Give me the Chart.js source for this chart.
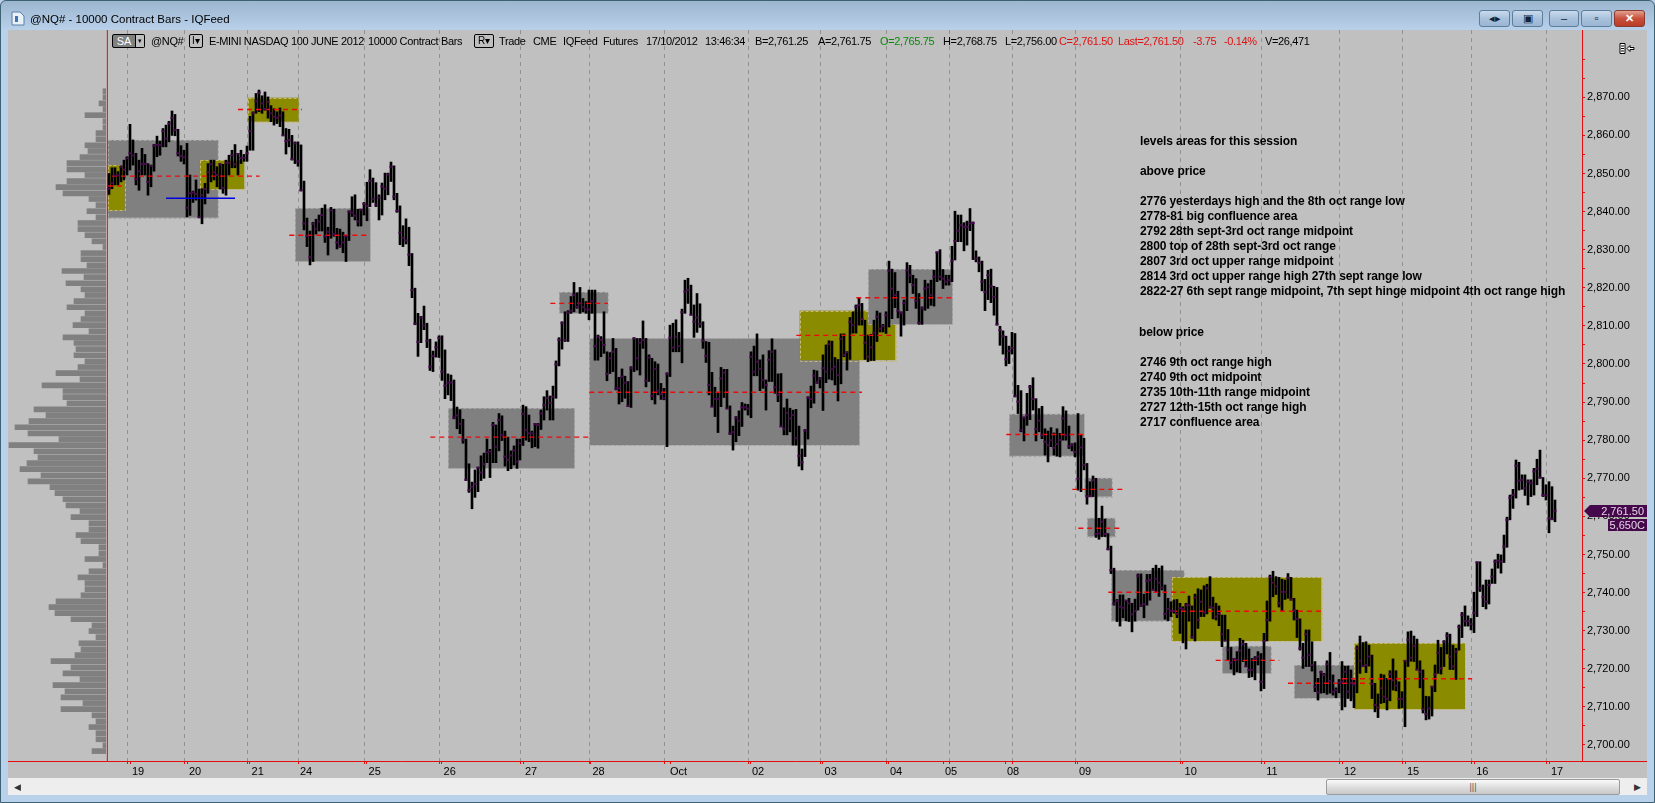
<!DOCTYPE html>
<html lang="en">
<head>
<meta charset="UTF-8">
<title>@NQ# - 10000 Contract Bars - IQFeed</title>
<script src="https://cdn.jsdelivr.net/npm/chart.js"></script>
<style>
    html, body { margin: 0; padding: 0; }
    body { width: 1655px; height: 803px; position: relative; overflow: hidden; background: #b9d1ea;
           font-family: "Liberation Sans", Arial, sans-serif; }
    #frame { position: absolute; left: 0; top: 0; width: 1653px; height: 801px; border: 1px solid #3d6272; border-radius: 6px 6px 0 0;
             background: linear-gradient(#9db6cf 0, #b9d1ea 30px, #b9d1ea 100%); }
    #grafico { position: absolute; left: 8px; top: 30px; background: #c0c0c0; }
    #perfil { position: absolute; left: 8px; top: 30px; }
    .t { position: absolute; top: 34px; white-space: pre; font-size: 11px; line-height: 14px; letter-spacing: -0.35px; color: #000; }
    .title { position: absolute; left: 30px; top: 11px; font-size: 11.5px; line-height: 16px; color: #000; white-space: pre; }
    .note { position: absolute; left: 1140px; font-size: 12px; line-height: 15px; font-weight: bold; letter-spacing: -0.1px; color: #000; white-space: pre; }
    .btn { position: absolute; top: 10px; height: 15px; border: 1px solid #5c7d9c; border-radius: 3px;
           background: linear-gradient(#c9daec, #a9c2dc 50%, #9ab6d3); font-size: 11px; line-height: 15px; text-align: center; color: #123; }
    .box { position: absolute; top: 34px; height: 12px; border: 1px solid #000; border-radius: 2px; font-size: 11px; line-height: 12px; text-align: center; }
    #scroll { position: absolute; left: 8px; top: 778px; width: 1639px; height: 17px; background: #eeeeee; }
    #thumb { position: absolute; left: 1318px; top: 1px; width: 292px; height: 14px; border: 1px solid #9a9a9a; border-radius: 2px;
             background: linear-gradient(#fafafa, #dcdcdc 55%, #c8c8c8); text-align: center; font-size: 9px; line-height: 14px; color: #555; }
</style>
</head>
<body>
<div id="frame"></div>
<canvas id="grafico" width="1639" height="748"></canvas>
<canvas id="perfil" width="98" height="731"></canvas>

<svg style="position:absolute;left:11px;top:11px" width="14" height="15"><path d="M1 1h8l4 4v9H1z" fill="#e8f0f8" stroke="#5b7fa8"/><path d="M4 5h3v6H4z" fill="#3f74b0"/></svg>
<div class="title">@NQ# - 10000 Contract Bars - IQFeed</div>
<div class="btn" style="left:1479px;width:29px">◂▸</div>
<div class="btn" style="left:1512px;width:29px">▣</div>
<div class="btn" style="left:1549px;width:28px">–</div>
<div class="btn" style="left:1581px;width:29px">▫</div>
<div class="btn" style="left:1614px;width:29px;background:linear-gradient(#e2a090,#c9503c 50%,#b83c28);color:#fff;font-weight:bold;border-color:#8a3a30">✕</div>

<div class="box" style="left:112px;width:22px;background:#808080;color:#fff;border-radius:2px 0 0 2px">SA</div>
<div class="box" style="left:135px;width:9px;border-left:0;border-radius:0 2px 2px 0;font-size:7px">▾</div>
<div class="t" style="left:151px">@NQ#</div>
<div class="box" style="left:189px;width:12px;font-size:10px">I▾</div>
<div class="t" style="left:209px">E-MINI NASDAQ 100 JUNE 2012</div>
<div class="t" style="left:368px">10000 Contract Bars</div>
<div class="box" style="left:474px;width:18px;font-size:10px">R▾</div>
<div class="t" style="left:499px">Trade</div>
<div class="t" style="left:533px">CME</div>
<div class="t" style="left:563px">IQFeed</div>
<div class="t" style="left:603px">Futures</div>
<div class="t" style="left:646px">17/10/2012</div>
<div class="t" style="left:705px">13:46:34</div>
<div class="t" style="left:755px">B=2,761.25</div>
<div class="t" style="left:818px">A=2,761.75</div>
<div class="t" style="left:880px;color:#0a8a0a">O=2,765.75</div>
<div class="t" style="left:943px">H=2,768.75</div>
<div class="t" style="left:1005px">L=2,756.00</div>
<div class="t" style="left:1059px;color:#e01010">C=2,761.50</div>
<div class="t" style="left:1118px;color:#e01010">Last=2,761.50</div>
<div class="t" style="left:1193px;color:#e01010">-3.75</div>
<div class="t" style="left:1224px;color:#e01010">-0.14%</div>
<div class="t" style="left:1265px">V=26,471</div>
<svg style="position:absolute;left:1619px;top:43px" width="16" height="11"><path d="M1 .5h5v10H1zM2 3h3M2 5.500h3M2 8h3" fill="#fff" stroke="#000"/><path d="M8 5.500l3-3v2h4v2h-4v2z" fill="#fff" stroke="#000"/></svg>

<div class="note" style="top:134px">levels areas for this session</div>
<div class="note" style="top:164px">above price</div>
<div class="note" style="top:194px">2776 yesterdays high and the 8th oct range low</div>
<div class="note" style="top:209px">2778-81 big confluence area</div>
<div class="note" style="top:224px">2792 28th sept-3rd oct range midpoint</div>
<div class="note" style="top:239px">2800 top of 28th sept-3rd oct range</div>
<div class="note" style="top:254px">2807 3rd oct upper range midpoint</div>
<div class="note" style="top:269px">2814 3rd oct upper range high 27th sept range low</div>
<div class="note" style="top:284px">2822-27 6th sept range midpoint, 7th sept hinge midpoint 4th oct range high</div>
<div class="note" style="top:325px;left:1139px">below price</div>
<div class="note" style="top:355px">2746 9th oct range high</div>
<div class="note" style="top:370px">2740 9th oct midpoint</div>
<div class="note" style="top:385px">2735 10th-11th range midpoint</div>
<div class="note" style="top:400px">2727 12th-15th oct range high</div>
<div class="note" style="top:415px">2717 confluence area</div>

<div id="scroll">
    <div class="t" style="left:6px;top:2px;font-size:9px;color:#333">◀</div>
    <div id="thumb">|||</div>
    <div class="t" style="left:1626px;top:2px;font-size:9px;color:#333">▶</div>
</div>

<script>
    // contract bars, left to right, one entry per bar
    const highs = [
        2850,2851.5,2851.5,2850.5,2852,2853.5,2854.4,2862.9,2858.8,2855.3,
        2853.5,2856.6,2855,2852.6,2852.2,2857.6,2859.8,2858.5,2861.8,2862.7,
        2863.7,2866.4,2865.5,2861.6,2857.3,2856.1,2857.9,2849.6,2845.4,2848.3,
        2845.9,2846,2847.4,2852.6,2853.5,2853.5,2851.8,2852.6,2852.4,2853.5,
        2854.8,2856.1,2857.6,2855.3,2856.1,2855,2857.2,2865,2866.2,2871,
        2871.9,2870.4,2871.4,2870.1,2867.8,2867,2866.2,2867.2,2866.2,2861.8,
        2861.6,2860,2858.3,2858.3,2857.5,2848,2838.3,2834.9,2837.2,2838,
        2839.1,2840.9,2841.8,2835.9,2841.1,2840.6,2835.6,2835.4,2834.6,2833.6,
        2840.2,2843.9,2844.4,2840.6,2840.6,2842.4,2847.7,2851,2848.8,2847.6,
        2844.4,2847.5,2850.1,2850.1,2853,2852,2844.8,2841.5,2836.3,2838.1,
        2835.9,2829,2819.9,2813.3,2812.5,2815.2,2810.7,2806.5,2803.4,2805.8,
        2807.4,2807.4,2803.7,2797.4,2797.1,2795.8,2788.7,2788,2785.5,2780.3,
        2773.8,2769,2772.2,2772.9,2775.9,2776.6,2780.3,2777.6,2784.7,2784,
        2787,2786.4,2782.4,2780.8,2777.2,2778.5,2780.3,2780.3,2789.2,2788.8,
        2786.6,2782.4,2784.4,2784.4,2787.9,2791.4,2793,2791.6,2794.2,2800.8,
        2806.9,2811.1,2813.7,2814,2817.7,2821.4,2818.7,2820.1,2817.2,2816.4,
        2819.4,2819.4,2819.4,2807.6,2807.2,2813.7,2803.2,2803,2806.7,2804.1,
        2796.5,2798.7,2796.8,2795.4,2799.3,2806.9,2806.7,2806.7,2811.3,2806.7,
        2802.4,2801.5,2800.6,2800,2794.9,2793.6,2797.7,2810.2,2810.7,2811.6,
        2808.3,2814.4,2822,2822.5,2820.7,2815.5,2818.5,2815.8,2811.1,2805.9,
        2805.7,2797.8,2793.9,2792.3,2799.1,2798.6,2798.6,2789,2783.7,2786.2,
        2787.7,2789.9,2789.5,2789.4,2803.2,2804.7,2807.9,2801.1,2802.4,2795.8,
        2803.5,2806.6,2803.7,2797.4,2797.5,2788.5,2790.8,2788.4,2787.9,2788.1,
        2783.7,2777.7,2782.8,2791.4,2794.2,2798.4,2798.2,2796.5,2802.4,2805,
        2806.1,2806,2801.7,2801.2,2807.9,2807.9,2803.2,2812.2,2813.7,2815.5,
        2817.5,2815.9,2811.5,2807.6,2807.8,2811.5,2813.9,2813.4,2810.4,2813.7,
        2827,2824.9,2824,2819.1,2813.7,2816.8,2826.6,2825.9,2823.3,2822.4,
        2818.5,2815,2822,2821.1,2822,2824.6,2829.4,2830,2824.8,2823.3,
        2823.3,2830.9,2840.1,2839.1,2839.1,2837.1,2837.5,2840.8,2837.3,2829.7,
        2828.1,2827,2822.2,2824.6,2824.9,2820.4,2820.1,2809.9,2808.7,2807.3,
        2804.7,2808.3,2808,2794.4,2793,2786.1,2792.3,2794.4,2796.4,2790.9,
        2788.3,2788.9,2783,2782.4,2783.3,2781.9,2783,2781.8,2788.8,2787.7,
        2783.7,2779.1,2779.3,2787,2781.5,2780.5,2773.9,2769.1,2770.6,2770,
        2759.5,2762.7,2759.3,2755.5,2752.2,2746.4,2738.2,2739.4,2739.4,2738,
        2738.5,2737.2,2738.3,2744.9,2744.9,2739.6,2744.8,2744.8,2746.4,2747.2,
        2746.4,2747,2742,2738.5,2737.6,2738.1,2738.2,2737.2,2736.3,2737.2,
        2739.1,2736.5,2739.6,2741,2740.7,2741.8,2742.2,2744.2,2738.8,2737.2,
        2736.5,2734.1,2734.1,2730.3,2725.6,2722.7,2724.5,2728,2727.5,2726.7,
        2725.2,2722.7,2723.2,2724.5,2724,2729.3,2737.8,2744.6,2745.6,2744.2,
        2744,2743.5,2743.3,2745,2744,2738.5,2735.4,2733.1,2726.7,2730.2,
        2730.2,2727.1,2721.9,2717.5,2719.4,2718.8,2722.1,2724.3,2718.4,2715,
        2717.2,2721.9,2720.7,2720.7,2719.7,2717,2726,2728.6,2726.9,2727.1,
        2726.2,2723.6,2716.2,2713.4,2718.6,2718.4,2717.5,2719.5,2722.6,2719.5,
        2716.6,2714,2722.1,2729.7,2729.9,2728.6,2727.8,2722.1,2719.7,2712.8,
        2712.7,2715.3,2721,2727.5,2725.6,2727.4,2729.5,2729.1,2726.2,2725.4,
        2731.5,2734.8,2736.5,2733.9,2733.2,2740.1,2748.1,2748.1,2742,2743.3,
        2743.3,2746.2,2748.6,2750.1,2749.9,2755.1,2759.8,2765.6,2767.1,2774.8,
        2774.2,2770.9,2770.9,2769.6,2769.6,2772.6,2775,2777.4,2770.2,2768.3,
        2769.1,2767.8,2764.3
    ];
    const lows = [
        2844.5,2846,2847,2847,2847.8,2848.3,2849.6,2850.9,2852.2,2847,
        2845.6,2849.6,2849.6,2844.3,2846.5,2850.6,2854.4,2854.8,2857,2857,
        2858.3,2860,2859.9,2854.6,2853.2,2852.5,2838.6,2839,2842.4,2843,
        2838.6,2836.8,2842,2844.8,2847.8,2848.3,2846.5,2845.9,2844.8,2844.3,
        2849.6,2851.5,2851.5,2849.6,2852.6,2853.2,2853.2,2856.1,2856.1,2865.8,
        2866.2,2865.8,2866.6,2864.5,2863.6,2862.7,2863.1,2862.3,2860,2855.1,
        2857,2853.5,2852.6,2851.9,2845.4,2835.2,2830.8,2826,2826.9,2834.1,
        2834.9,2834.9,2831.9,2828.6,2833,2833.5,2830.2,2830.6,2829.2,2826.9,
        2832.4,2838.7,2837.8,2836.2,2836.2,2839.1,2837.6,2841.3,2842.4,2841.3,
        2837.8,2839.1,2843.1,2844.4,2847.9,2843.1,2839.8,2831.3,2830.8,2831.5,
        2825.8,2817.4,2810.3,2802,2805.6,2809,2804.3,2798.3,2798,2801.8,
        2801.7,2795.7,2790.9,2791.9,2790.4,2785.6,2783,2781.7,2779.2,2769.4,
        2766.3,2762,2765,2766.5,2769.4,2770,2774.1,2770.2,2774.1,2774.1,
        2777.2,2779.9,2773.2,2772,2772.5,2773.5,2772.6,2774.8,2778.6,2780,
        2779.6,2778,2778.3,2777.9,2782.8,2785.3,2787.9,2785.3,2785.3,2791,
        2799.5,2803.9,2805.9,2805.9,2813.3,2813.7,2814.6,2813.3,2813.7,2813.3,
        2811.6,2813.3,2801,2801,2801.9,2802.8,2795.6,2797.5,2798,2793.2,
        2789.5,2790.1,2791,2788.8,2788.6,2798,2798.4,2797.1,2804.1,2794,
        2795.4,2790.6,2789.5,2791.9,2790.7,2790.6,2778.3,2796.7,2803.2,2803.2,
        2803.2,2800.3,2813.3,2815.9,2812.9,2807,2808.3,2809.6,2804.1,2800.4,
        2791.9,2788.8,2786.2,2782,2788.8,2791.2,2788.3,2781.5,2777.4,2779.6,
        2781.2,2783.6,2787.9,2786.6,2785.9,2796.9,2796.9,2793,2793.6,2787.9,
        2795.4,2795.4,2792.3,2790.1,2783.6,2781.4,2781.4,2782.2,2778.7,2778.7,
        2773.2,2772.2,2775.7,2780.3,2788.5,2789.7,2794.9,2793.7,2787.8,2795.1,
        2796,2795.8,2794.5,2790.3,2794.8,2801.9,2798.4,2801.2,2808.1,2808.1,
        2810.2,2810.2,2801.2,2800.6,2800.9,2800.9,2805.9,2808.4,2808.4,2808,
        2809.7,2811.9,2814.8,2812.1,2807.3,2810.2,2814,2821.3,2818.5,2814.6,
        2810.4,2810.4,2814.1,2814.6,2815.4,2815.2,2821.6,2822,2819.8,2820.7,
        2820.7,2821.6,2827.3,2832.1,2832.1,2829.7,2831.2,2835,2827.4,2826.8,
        2824.2,2819.2,2814,2816.9,2816.1,2812.8,2810.2,2804.9,2802.6,2799.5,
        2800.1,2802.6,2791.4,2787,2782.2,2779.8,2783.9,2785.4,2787.9,2779.8,
        2782.2,2780.4,2776.1,2774.3,2778.3,2776.1,2775.8,2775.6,2780,2780,
        2777.8,2777.2,2775.6,2766.9,2766.5,2772.2,2763.2,2765.2,2765.2,2754.5,
        2754,2754.7,2754.7,2751.2,2745,2736.7,2732.4,2731.2,2733.4,2732.6,
        2732.4,2729.7,2732.5,2735.4,2736.3,2733.4,2736.7,2738,2740.7,2740.2,
        2739,2740.7,2733,2732.6,2733.7,2734.6,2733.4,2729.3,2726.8,2725.2,
        2732.5,2728,2727.3,2730.6,2733.7,2733.7,2734.4,2735.9,2733.1,2732.8,
        2731.3,2725.8,2727.3,2722.3,2719.9,2718.4,2719.2,2719,2721.9,2720.5,
        2717.7,2717.9,2717.1,2721,2714.2,2714.8,2727.3,2732.5,2738.9,2739.5,
        2736.2,2735.3,2738.2,2738.5,2738,2732.8,2728.2,2724.9,2720.1,2720.6,
        2720.6,2719.4,2714,2711.8,2713.6,2713.7,2713.3,2713.6,2713.1,2712.4,
        2713.7,2709.2,2710,2712.2,2711.6,2709.8,2713.7,2718.8,2720.6,2719,
        2720.7,2712.2,2708.7,2707.2,2710.9,2711.1,2709.2,2711.6,2714.4,2714.2,
        2709.6,2709.8,2704.8,2720.6,2722,2721.9,2719.7,2715,2708.4,2706.6,
        2706.8,2707.6,2714,2718.8,2718.6,2720.6,2723.9,2719.8,2719.8,2717.2,
        2724.9,2728.2,2731.2,2731.2,2730.2,2729.5,2733.7,2740.3,2736.3,2735.7,
        2737,2742.4,2742.4,2746.4,2745.1,2747.9,2751.9,2759.1,2762.1,2764.8,
        2766.9,2767.1,2765.5,2763,2765.2,2765.6,2768.3,2770,2765.2,2764.3,
        2755.7,2759.1,2758.6
    ];
    const closes = [
        2846,2847.5,2849.5,2849.5,2851.8,2851,2854,2855.3,2854.7,2848.5,
        2850.6,2852.5,2852.5,2847.8,2852,2857.3,2857.5,2857.5,2861.1,2859.2,
        2863.1,2864.6,2861.4,2855.3,2854.6,2854.3,2841,2844.8,2845,2844.6,
        2838.5,2844.3,2845.9,2850.3,2852.4,2850.3,2849.6,2852.4,2846.2,2852.8,
        2852.8,2854.8,2852.4,2855.1,2854.1,2854.1,2855.3,2861.1,2865.8,2869,
        2871.2,2868.4,2866.9,2868.8,2865.8,2864.9,2864.6,2865.2,2860,2858.5,
        2858.8,2853.8,2857.9,2853.2,2845.6,2836.9,2833.6,2828.1,2836.8,2835.5,
        2837.4,2839.1,2833.5,2834.7,2840.3,2834.1,2831.9,2831,2831.9,2833.5,
        2840,2839.8,2838.9,2837.4,2840.5,2842,2841.5,2848.1,2843.3,2841.8,
        2843.7,2846.6,2846,2849.7,2851.8,2843.9,2840.2,2834.5,2833.1,2832.4,
        2828.7,2819.4,2810.6,2805.8,2812.2,2810.1,2806.1,2799.3,2802.1,2804.4,
        2806.8,2798,2794.3,2795.1,2795.1,2785.9,2786.5,2784.3,2780.1,2769.6,
        2766.9,2767.8,2768.5,2772.8,2771.5,2773.7,2776.8,2777,2784,2778.3,
        2785.3,2781.4,2775.7,2774.8,2776,2777.3,2774.4,2779.2,2786.9,2782.7,
        2781.8,2781.8,2784.2,2784,2787,2789.2,2791,2789.8,2791.4,2799.9,
        2806.3,2810.7,2806.3,2813.5,2814,2818.1,2815,2815.9,2814.9,2814.3,
        2814.3,2816.5,2804.7,2807.2,2806.3,2805,2797.4,2801.5,2803.2,2793.6,
        2793.6,2796.7,2795.1,2789,2798.9,2806.7,2801.5,2805.6,2806.3,2795.6,
        2801.7,2791.6,2798.7,2793,2792.1,2791,2797.4,2806.9,2804.3,2807.2,
        2804.7,2813.6,2819,2819.4,2812.9,2811.1,2812.2,2810.5,2806.1,2802.1,
        2794.5,2788.8,2790.8,2790.8,2796.2,2797.7,2788.3,2781.8,2782.1,2785.9,
        2785.1,2788.6,2788.6,2788.3,2801.9,2798,2800.6,2798.7,2795.8,2794.5,
        2801.1,2803.2,2793.9,2791.9,2783.6,2783,2787.2,2785.7,2786.6,2780.5,
        2775.9,2774.2,2782.5,2791.2,2790.8,2796.9,2795.2,2796.2,2798.9,2798,
        2805.2,2798.6,2799.3,2797.1,2806.6,2802.4,2803.1,2811.1,2810.2,2815,
        2815.5,2811.8,2805.6,2801.9,2804.4,2808.2,2812.4,2809.3,2809.9,2812.8,
        2824.5,2819.8,2818.1,2814,2813.4,2816,2824.6,2823.3,2820.7,2816.6,
        2810.8,2814.6,2819.8,2820.1,2818.1,2822.9,2829.3,2822.9,2822.4,2821.6,
        2822,2827.1,2832.3,2835,2836.4,2836,2836,2836.9,2837,2827.7,
        2826.6,2821.6,2818.9,2823.3,2820.4,2817.6,2810.4,2808.9,2807.3,2801.2,
        2803.4,2804.2,2791.5,2790.1,2782.6,2785.9,2786.6,2794,2790.8,2782.9,
        2785.1,2781.3,2779.6,2778.7,2780,2778,2779,2780,2785.7,2781.3,
        2778.4,2778.7,2776.9,2769.9,2778.1,2773.5,2765.3,2765.3,2769.5,2755.4,
        2755.5,2758.6,2755.4,2751.4,2745.9,2737.2,2737.8,2736.3,2736,2737.9,
        2737.2,2734.3,2735.2,2744.4,2736.6,2737,2743.1,2743.3,2740.7,2743.6,
        2742.6,2741.3,2734.4,2735.7,2735.2,2735.2,2734.4,2735.9,2735.7,2736.7,
        2736.7,2728.4,2738.7,2732.8,2737.6,2734.8,2741.1,2736.3,2736,2733.7,
        2734.4,2729.1,2727.4,2725,2721.6,2722.6,2722.3,2724.8,2726.5,2720.7,
        2719.7,2719.7,2722.7,2723.2,2716.6,2727.3,2732.8,2744,2742.6,2741.6,
        2737.2,2740.2,2740.2,2743.9,2738.2,2735.4,2733.1,2725.4,2722.9,2729.1,
        2723.6,2721,2715.3,2713.8,2719.1,2718.4,2721.2,2716.8,2714,2714.4,
        2716.3,2716.6,2719.2,2714,2716.3,2715.9,2725.4,2722.1,2720.7,2721,
        2723.2,2716,2710.5,2709.8,2714.9,2712.7,2712.1,2718.6,2717,2715.6,
        2712.1,2712.1,2722.1,2727.6,2722.9,2726,2719.8,2719.2,2709.4,2708.1,
        2709.6,2715.3,2718.5,2724.2,2720.1,2727.1,2728.7,2723.2,2720.6,2724.5,
        2731,2734.1,2732.5,2732.5,2731.7,2734.7,2747.9,2741.1,2738.9,2737.6,
        2742,2744.2,2748.1,2748.4,2748.1,2752.1,2759.1,2764.9,2765.6,2773.3,
        2769.4,2769.6,2767.4,2769.1,2768.7,2771.8,2772.5,2770.2,2765.6,2765.5,
        2759.5,2759.3,2761.5
    ];

    // volume profile on the left edge
    const profileLevels = [
        2871.6,2870,2868.4,2866.9,2865.3,2863.7,2862.1,2860.6,2859,2857.4,
        2855.9,2854.3,2852.7,2851.1,2849.6,2848,2846.4,2844.8,2843.3,2841.7,
        2840.1,2838.5,2837,2835.4,2833.8,2832.2,2830.7,2829.1,2827.5,2825.9,
        2824.4,2822.8,2821.2,2819.6,2818.1,2816.5,2814.9,2813.3,2811.8,2810.2,
        2808.6,2807,2805.5,2803.9,2802.3,2800.7,2799.2,2797.6,2796,2794.4,
        2792.9,2791.3,2789.7,2788.1,2786.6,2785,2783.4,2781.8,2780.3,2778.7,
        2777.1,2775.5,2774,2772.4,2770.8,2769.2,2767.7,2766.1,2764.5,2762.9,
        2761.4,2759.8,2758.2,2756.6,2755.1,2753.5,2751.9,2750.3,2748.8,2747.2,
        2745.6,2744,2742.5,2740.9,2739.3,2737.7,2736.2,2734.6,2733,2731.4,
        2729.9,2728.3,2726.7,2725.1,2723.6,2722,2720.4,2718.8,2717.3,2715.7,
        2714.1,2712.5,2711,2709.4,2707.8,2706.2,2704.7,2703.1,2701.5,2699.9,
        2698.4
    ];
    const profileVolume = [
        3,3,7,3,21,3,3,10,10,21,18,26,39,39,21,39,50,43,17,10,19,10,28,28,21,14,3,25,25,19,44,22,40,25,21,
        32,39,21,25,33,17,43,32,30,32,21,28,50,26,64,43,43,39,72,60,77,91,78,47,97,72,68,79,86,65,78,56,51,43,40,
        26,35,17,17,30,25,7,7,21,3,17,28,21,21,25,50,57,51,35,14,17,10,27,25,31,55,35,43,26,53,41,45,23,45,14,10,17,10,10,3,14
    ];

    // shaded session ranges: first bar, last bar, top price, bottom price, kind
    const zoneStart = [-0.5,-0.5,30.2,46.3,62.1,113.1,150.1,160.1,230.2,253.1,300.1,325.2,326.1,334.1,354.2,371.1,395.1,415.1];
    const zoneEnd   = [36.3,5.2,45.1,63.2,87.1,155.2,166.3,250.2,262.1,281.2,325.1,334.3,335.3,358.3,404.1,387.3,415.1,452];
    const zoneTop   = [2858.8,2852.2,2853.5,2869.9,2840.9,2788.4,2818.9,2806.7,2814,2824.9,2786.9,2770.1,2759.6,2745.9,2744,2726,2721,2726.7];
    const zoneBottom= [2838.4,2840.3,2845.9,2863.6,2826.9,2772.6,2813.3,2778.7,2801,2810.4,2775.9,2765.2,2754.7,2732.6,2727.3,2718.8,2712.3,2709.4];
    const zoneKind  = ['gray','olive','olive','olive','gray','gray','gray','gray','olive','gray','gray','gray','gray','gray','olive','gray','gray','olive'];

    // red dashed range midpoints
    const midStart = [1,-0.3,43,60.1,107.1,147.1,160.1,229.1,249.1,299.1,321.1,323.1,333.1,354.3,368.9,393,411];
    const midEnd   = [50.2,4.3,64.3,87.1,160.4,166.3,251,262.1,282.1,326.1,339.1,337.1,360.1,405.1,390.1,420.4,454.4];
    const midPrice = [2849.3,2846.7,2866.8,2833.8,2780.8,2815.9,2792.6,2807.5,2817.4,2781.5,2767.1,2756.9,2740.1,2735.1,2722.2,2716.2,2717.4];

    const blueStart = 19;
    const blueEnd = 42;
    const bluePrice = 2843.5;

    // session separators and date labels on the time axis
    const sessionLines = [6.1,25.1,46.1,63.1,85.1,110.1,137.1,160.1,185.1,213.1,237.2,259.1,280.1,301.1,322.1,357.1,384.1,410.1,431.1,454.1,479.1];
    const dateTicks = [7,26,46.9,63,85.9,110.9,138,160.5,187.2,213.7,237.9,259.7,278,298.7,322.7,357.9,385,411,432,455.1,480];
    const dateLabels = ['19','20','21','24','25','26','27','28','Oct','02','03','04','05','08','09','10','11','12','15','16','17'];
    const priceTicks = [2700,2705,2710,2715,2720,2725,2730,2735,2740,2745,2750,2755,2760,2765,2770,2775,2780,2785,2790,2795,2800,2805,2810,2815,2820,2825,2830,2835,2840,2845,2850,2855,2860,2865,2870,2875,2880];

    const lastPrice = '2,761.50';
    const lastVolume = '5,650C';

    const VERMELHO = '#e40c0c';
    const ROXO = '#45084a';

    const fmtPreco = v => v.toLocaleString('en-US', { minimumFractionDigits: 2, maximumFractionDigits: 2 });

    const zonas = {
        id: 'zonas',
        beforeDatasetsDraw(chart) {
            const { ctx, scales: { x, y } } = chart;
            ctx.save();
            zoneStart.forEach((ini, i) => {
                const x0 = x.getPixelForValue(ini);
                const x1 = x.getPixelForValue(zoneEnd[i]);
                const y0 = y.getPixelForValue(zoneTop[i]);
                const y1 = y.getPixelForValue(zoneBottom[i]);
                ctx.fillStyle = zoneKind[i] === 'olive' ? '#8b8b00' : '#808080';
                ctx.fillRect(x0, y0, x1 - x0, y1 - y0);
                ctx.strokeStyle = zoneKind[i] === 'olive' ? '#c9b878' : '#a6a6a6';
                ctx.lineWidth = 1;
                ctx.setLineDash([3, 2]);
                ctx.strokeRect(Math.round(x0) + 0.5, Math.round(y0) + 0.5, Math.round(x1 - x0), Math.round(y1 - y0));
            });
            ctx.restore();
        }
    };

    const marcador = {
        id: 'marcador',
        afterDraw(chart) {
            const { ctx, chartArea, scales: { y } } = chart;
            const largura = chart.width;
            const py = Math.round(y.getPixelForValue(closes[closes.length - 1]));
            ctx.save();
            // axis line carries on under the price column
            ctx.fillStyle = VERMELHO;
            ctx.fillRect(chartArea.right, chartArea.bottom, largura - chartArea.right, 1);
            ctx.fillStyle = ROXO;
            ctx.beginPath();
            ctx.moveTo(chartArea.right + 2, py);
            ctx.lineTo(chartArea.right + 8, py - 6);
            ctx.lineTo(largura, py - 6);
            ctx.lineTo(largura, py + 6);
            ctx.lineTo(chartArea.right + 8, py + 6);
            ctx.closePath();
            ctx.fill();
            ctx.fillRect(largura - 39, py + 8, 39, 12);
            ctx.fillStyle = '#e2d6e6';
            ctx.font = '11px "Liberation Sans", Arial, sans-serif';
            ctx.textBaseline = 'middle';
            ctx.textAlign = 'right';
            ctx.fillText(lastPrice, largura - 3, py + 0.5);
            ctx.fillText(lastVolume, largura - 2, py + 14.5);
            ctx.restore();
        }
    };

    const barras = highs.map((h, i) => ({ x: i, y: [lows[i], h] }));
    const fechamentos = closes.map((c, i) => ({ x: i, y: c }));
    const precoMin = 2695.8;
    const precoMax = 2887.66;

    const conjuntos = [
        { type: 'line', label: 'base', data: [{ x: -0.55, y: precoMin }, { x: -0.55, y: precoMax }], borderColor: VERMELHO, borderWidth: 1, pointRadius: 0, order: 8 },
        { type: 'bar', label: 'bars', data: barras, backgroundColor: '#000000', barThickness: 2, order: 5 }
    ];
    midStart.forEach((ini, i) => {
        conjuntos.push({
            type: 'line', label: 'mid' + i,
            data: [{ x: ini, y: midPrice[i] }, { x: midEnd[i], y: midPrice[i] }],
            borderColor: '#ee0a0a', borderWidth: 1.4, borderDash: [5, 4], pointRadius: 0, order: 3
        });
    });
    conjuntos.push({
        type: 'line', label: 'blue',
        data: [{ x: blueStart, y: bluePrice }, { x: blueEnd, y: bluePrice }],
        borderColor: '#0000e0', borderWidth: 1.4, pointRadius: 0, order: 3
    });
    conjuntos.push({
        type: 'scatter', label: 'close', data: fechamentos,
        pointStyle: 'line', pointRadius: 1.6, borderColor: ROXO, borderWidth: 2, order: 1
    });

    const grafico = new Chart(document.getElementById('grafico'), {
        type: 'bar',
        data: { datasets: conjuntos },
        plugins: [zonas, marcador],
        options: {
            responsive: false,
            animation: false,
            events: [],
            // keep the plot edges pinned
            layout: { padding: 0, autoPadding: false },
            plugins: { legend: { display: false }, tooltip: { enabled: false } },
            scales: {
                x: {
                    type: 'linear', position: 'bottom', offset: false,
                    min: -33.6667, max: 491,
                    afterBuildTicks: axis => {
                        axis.ticks = sessionLines.concat(dateTicks).sort((a, b) => a - b).map(v => ({ value: v }));
                    },
                    afterFit: axis => { axis.height = 17; axis.paddingLeft = 0; axis.paddingRight = 0; },
                    border: { color: VERMELHO, dash: [4, 4] },
                    grid: {
                        offset: false,
                        color: c => sessionLines.includes(c.tick && c.tick.value) ? '#929292' : 'rgba(0,0,0,0)',
                        tickColor: VERMELHO, tickLength: 3, lineWidth: 1
                    },
                    ticks: {
                        autoSkip: false, maxRotation: 0, padding: 1, labelOffset: 8, color: '#000',
                        font: { family: '"Liberation Sans", Arial, sans-serif', size: 11 },
                        callback: v => {
                            const i = dateTicks.indexOf(v);
                            return i < 0 ? '' : dateLabels[i];
                        }
                    }
                },
                y: {
                    type: 'linear', position: 'right', min: precoMin, max: precoMax,
                    afterBuildTicks: axis => { axis.ticks = priceTicks.map(v => ({ value: v })); },
                    afterFit: axis => { axis.width = 65; axis.paddingTop = 0; axis.paddingBottom = 0; },
                    border: { color: VERMELHO },
                    grid: { drawOnChartArea: false, tickColor: VERMELHO, tickLength: 3 },
                    ticks: {
                        padding: 2, color: '#000', autoSkip: false, align: 'center',
                        font: { family: '"Liberation Sans", Arial, sans-serif', size: 11 },
                        callback: v => (v % 10 === 0 && v <= 2870) ? fmtPreco(v) : ''
                    }
                }
            }
        }
    });

    // profile sits on its own small chart so it keeps its own scales
    const graficoPerfil = new Chart(document.getElementById('perfil'), {
        type: 'bar',
        data: {
            labels: profileLevels,
            datasets: [{
                data: profileVolume.map((v, i) => ({ x: v, y: profileLevels[i] })),
                backgroundColor: '#808080',
                barThickness: 5
            }]
        },
        options: {
            indexAxis: 'y',
            responsive: false,
            animation: false,
            events: [],
            layout: { padding: 0, autoPadding: false },
            plugins: { legend: { display: false }, tooltip: { enabled: false } },
            scales: {
                x: { type: 'linear', display: false, reverse: true, min: 0, max: 98, offset: false },
                y: { type: 'linear', display: false, min: precoMin, max: precoMax, offset: false }
            }
        }
    });
</script>
</body>
</html>
